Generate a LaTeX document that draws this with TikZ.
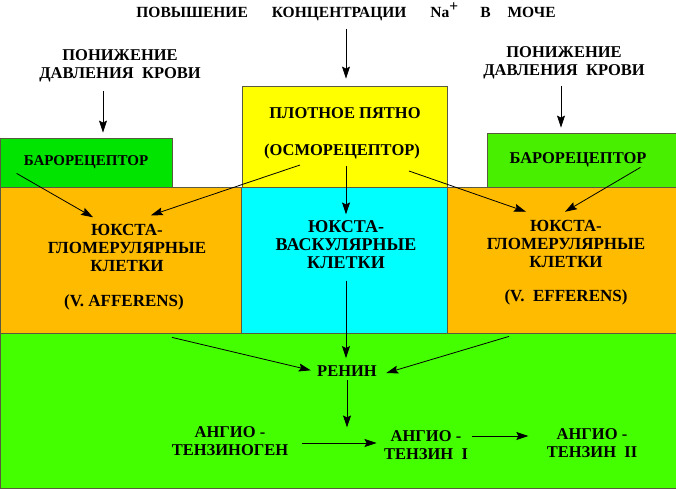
\documentclass[tikz,border=0pt]{standalone}
\usepackage{fontspec}
\setmainfont{Liberation Serif}
\usetikzlibrary{arrows.meta,positioning,calc}

\definecolor{baroGreen}{HTML}{00E400}
\definecolor{baroLight}{HTML}{48F000}
\definecolor{spotYellow}{HTML}{FFFF00}
\definecolor{cellOrange}{HTML}{FFBB00}
\definecolor{vascCyan}{HTML}{00FFFF}
\definecolor{baseGreen}{HTML}{44FF00}
\definecolor{edgeGray}{HTML}{5A5A40}

\begin{document}
\begin{tikzpicture}[x=1pt, y=-1pt,
    every node/.style={font=\bfseries\fontsize{16.5}{18}\selectfont, align=center},
    box/.style={draw=edgeGray, line width=0.8pt, inner sep=0pt},
    small/.style={font=\bfseries\fontsize{15}{18}\selectfont},
    mid/.style={font=\bfseries\fontsize{17}{18}\selectfont},
    big/.style={font=\bfseries\fontsize{18}{18}\selectfont},
    arr/.style={-{Stealth[length=12pt,width=8pt,inset=2pt]}, line width=0.8pt}]
    \useasboundingbox (0,0) rectangle (676,489);

    % coloured regions
    \node[box, fill=baseGreen, minimum width=676pt, minimum height=155pt] (base) at (338,410.5) {};
    \node[box, small, fill=baroGreen, minimum width=172pt, minimum height=49pt] (baroL) at (86,162.5) {БАРОРЕЦЕПТОР};
    \node[box, fill=baroLight, minimum width=189pt, minimum height=54pt] (baroR) at (581.5,160) {\hspace{-7pt}БАРОРЕЦЕПТОР};
    \node[box, fill=spotYellow, minimum width=205pt, minimum height=101pt] (spot) at (344.5,136.5) {};
    \node[box, fill=cellOrange, minimum width=241pt, minimum height=146pt] (juxL) at (120.5,260) {};
    \node[box, fill=vascCyan, minimum width=206pt, minimum height=146pt] (juxV) at (344,260) {};
    \node[box, fill=cellOrange, minimum width=229pt, minimum height=146pt] (juxR) at (561.5,260) {};

    % labels
    \node[font=\bfseries\fontsize{15.5}{18}\selectfont] (title) at (346,12) {ПОВЫШЕНИЕ\hspace{24pt}КОНЦЕНТРАЦИИ\hspace{24pt}Na\raisebox{6pt}{+}\hspace{22pt}В\hspace{17pt}МОЧЕ};
    \node (presL) at (120,66) {ПОНИЖЕНИЕ\\ДАВЛЕНИЯ\ \ КРОВИ};
    \node (presR) at (564,63) {ПОНИЖЕНИЕ\\ДАВЛЕНИЯ\ \ КРОВИ};
    \node (plotnoe) at (345,113) {ПЛОТНОЕ ПЯТНО};
    \node (osmo) at (342,152) {(ОСМОРЕЦЕПТОР)};
    \node[mid] (jgL) at (127,247.5) {ЮКСТА-\\ГЛОМЕРУЛЯРНЫЕ\\КЛЕТКИ};
    \node[mid] (affL) at (124,302) {(V. AFFERENS)};
    \node[big] (jv) at (346,245) {ЮКСТА-\\ВАСКУЛЯРНЫЕ\\КЛЕТКИ};
    \node[mid] (jgR) at (566,244) {ЮКСТА-\\ГЛОМЕРУЛЯРНЫЕ\\КЛЕТКИ};
    \node[mid] (effR) at (566,297) {(V.\ \ EFFERENS)};
    \node (renin) at (347,371) {РЕНИН};
    \node (angGen) at (230,441.5) {АНГИО -\\ТЕНЗИНОГЕН};
    \node (ang1) at (426,445.5) {АНГИО -\\ТЕНЗИН\ \ I};
    \node (ang2) at (592,443) {АНГИО -\\ТЕНЗИН\ \ II};

    % arrows
    \draw[arr, shorten <=4pt, shorten >=7pt] (title.south) -- (title.south |- spot.north);
    \draw[arr, shorten <=5pt, shorten >=5pt] ($(presL.south)+(-17,0)$) -- ($(baroL.north)+(17,0)$);
    \draw[arr, shorten <=3pt, shorten >=5pt] ($(presR.south)+(-3,0)$) -- ($(baroR.north)+(-20.5,0)$);
    \draw[arr] ($(baroL.south west)+(17,-14)$) -- ($(jgL.north)+(-34,-3)$);
    \draw[arr] ($(osmo.south)+(-42,2)$) -- ($(jgL.north)+(24,-5)$);
    \draw[arr] ($(osmo.south)+(4,3)$) -- ($(jv.north)+(0,-3)$);
    \draw[arr] ($(osmo.south)+(67,8)$) -- ($(jgR.north)+(-40,-5)$);
    \draw[arr] ($(baroR.south east)+(-36,-20)$) -- ($(jgR.north)+(-1,-5)$);
    \draw[arr, shorten <=8pt, shorten >=4pt] (jv.south) -- (jv.south |- renin.north);
    \draw[arr, shorten >=3pt] ($(juxL.south)+(51.5,4)$) -- (renin.west);
    \draw[arr] ($(juxR.south)+(-52.5,3)$) -- ($(renin.east)+(6,2)$);
    \draw[arr] (renin) -- (renin |- ang1.north);
    \draw[arr] ($(angGen.east)+(10,1.5)$) -- ($(ang1.west)+(-4,-2.5)$);
    \draw[arr] ($(ang1.east)+(1,-9.5)$) -- ($(ang2.west)+(-15,-7)$);
\end{tikzpicture}
\end{document}
